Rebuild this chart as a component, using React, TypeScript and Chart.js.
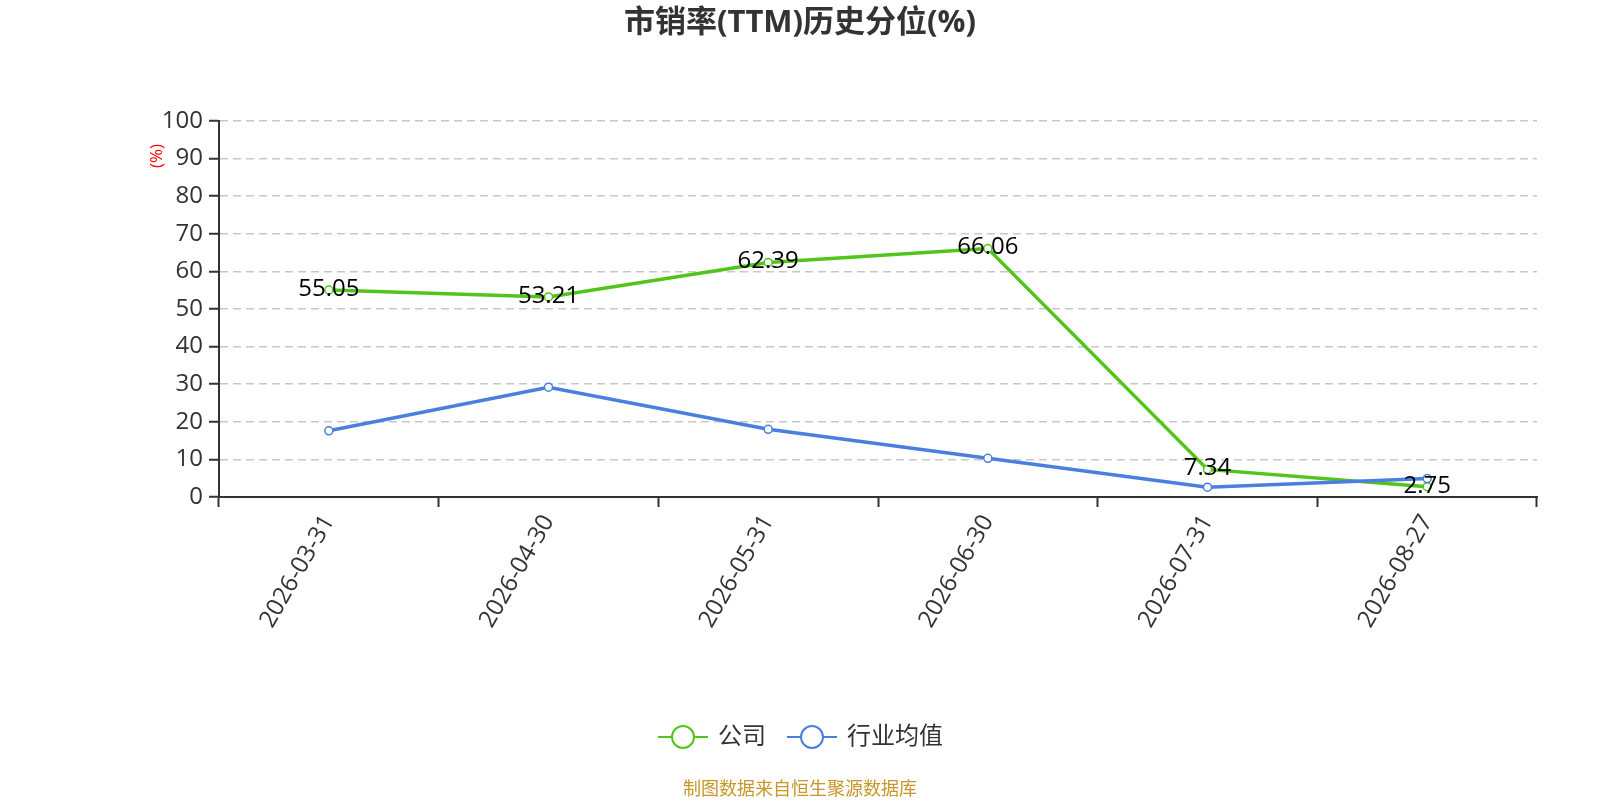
import React, { useEffect, useRef } from 'react';
import { Chart, registerables, Plugin } from 'chart.js';

Chart.register(...registerables);

const dates = ['2026-03-31', '2026-04-30', '2026-05-31', '2026-06-30', '2026-07-31', '2026-08-27'];
const companyValues = [55.05, 53.21, 62.39, 66.06, 7.34, 2.75];
const industryValues = [17.6, 29.2, 18.0, 10.3, 2.6, 4.9];
const yTicks = [0, 10, 20, 30, 40, 50, 60, 70, 80, 90, 100];

const titleText = '市销率(TTM)历史分位(%)';
const sourceText = '制图数据来自恒生聚源数据库';
const legendNames = ['公司', '行业均值'];

const GREEN = '#52c41a';
const BLUE = '#4a7fe0';
const FONT = '"Open Sans", "Noto Sans CJK SC", sans-serif';

// title, y unit, data labels, legend and source line
const decorPlugin: Plugin<'line'> = {
  id: 'decor',
  afterDatasetsDraw(chart) {
    const ctx = chart.ctx;
    ctx.save();

    // labels on the company series
    const meta = chart.getDatasetMeta(1);
    ctx.font = `24px ${FONT}`;
    ctx.fillStyle = '#000';
    ctx.textAlign = 'center';
    ctx.textBaseline = 'middle';
    meta.data.forEach((pt, i) => {
      ctx.fillText(companyValues[i].toFixed(2), pt.x, pt.y - 1);
    });
    ctx.restore();
  },
  afterDraw(chart) {
    const ctx = chart.ctx;
    const w = chart.width;
    ctx.save();

    // title
    ctx.font = `bold 31px ${FONT}`;
    ctx.fillStyle = '#333';
    ctx.textAlign = 'center';
    ctx.textBaseline = 'middle';
    ctx.fillText(titleText, w / 2, 23);

    // y unit
    ctx.save();
    ctx.translate(157, 156);
    ctx.rotate(-Math.PI / 2);
    ctx.font = `17px ${FONT}`;
    ctx.fillStyle = '#ff0000';
    ctx.fillText('(%)', 0, 0);
    ctx.restore();

    // legend
    const items = [
      { name: legendNames[0], color: GREEN, x: 658 },
      { name: legendNames[1], color: BLUE, x: 787 },
    ];
    const ly = 737;
    items.forEach((it) => {
      ctx.strokeStyle = it.color;
      ctx.lineWidth = 2;
      ctx.beginPath();
      ctx.moveTo(it.x, ly);
      ctx.lineTo(it.x + 50, ly);
      ctx.stroke();
      ctx.beginPath();
      ctx.arc(it.x + 25, ly, 11, 0, Math.PI * 2);
      ctx.fillStyle = '#fff';
      ctx.fill();
      ctx.lineWidth = 2;
      ctx.stroke();
      ctx.font = `24px ${FONT}`;
      ctx.fillStyle = '#333';
      ctx.textAlign = 'left';
      ctx.fillText(it.name, it.x + 60, ly);
    });

    // source
    ctx.font = `18px ${FONT}`;
    ctx.fillStyle = '#c8962a';
    ctx.textAlign = 'center';
    ctx.fillText(sourceText, w / 2, 790);

    ctx.restore();
  },
};

const App: React.FC = () => {
  const canvasRef = useRef<HTMLCanvasElement>(null);

  useEffect(() => {
    document.body.style.margin = '0';
    if (!canvasRef.current) return;
    const chart = new Chart(canvasRef.current, {
      type: 'line',
      data: {
        labels: dates,
        datasets: [
          {
            label: legendNames[1],
            data: industryValues,
            borderColor: BLUE,
            backgroundColor: '#fff',
            borderWidth: 3.5,
            pointRadius: 4,
            pointBorderWidth: 1.5,
            pointBackgroundColor: '#fff',
            pointBorderColor: BLUE,
            tension: 0,
            order: 0,
          },
          {
            label: legendNames[0],
            data: companyValues,
            borderColor: GREEN,
            backgroundColor: '#fff',
            borderWidth: 3.5,
            pointRadius: 4,
            pointBorderWidth: 1.5,
            pointBackgroundColor: '#fff',
            pointBorderColor: GREEN,
            tension: 0,
            order: 1,
          },
        ],
      },
      options: {
        responsive: false,
        animation: false,
        layout: { padding: { top: 121, left: 0, right: 63, bottom: 0 } },
        plugins: {
          legend: { display: false },
          title: { display: false },
          tooltip: { enabled: false },
        },
        scales: {
          x: {
            offset: true,
            afterFit: (scale) => {
              scale.height = 303;
            },
            grid: {
              offset: true,
              drawOnChartArea: false,
              drawTicks: true,
              tickLength: 10,
              tickColor: '#333',
              tickWidth: 2,
            },
            border: { color: '#333', width: 2 },
            ticks: {
              autoSkip: false,
              minRotation: 60,
              maxRotation: 60,
              padding: 3,
              color: '#333',
              font: { family: FONT, size: 24 },
            },
          },
          y: {
            min: 0,
            max: 100,
            afterFit: (scale) => {
              scale.width = 219;
            },
            afterBuildTicks: (scale) => {
              scale.ticks = yTicks.map((v) => ({ value: v }));
            },
            grid: {
              color: '#c8c8c8',
              lineWidth: 1.5,
              tickColor: '#333',
              tickWidth: 2,
              tickLength: 10,
              tickBorderDash: [],
            },
            border: { color: '#333', width: 2, dash: [8, 5] },
            ticks: {
              padding: 6,
              color: '#333',
              font: { family: FONT, size: 24 },
            },
          },
        },
      },
      plugins: [decorPlugin],
    });
    return () => chart.destroy();
  }, []);

  return (
    <div style={{ width: 1600, height: 800 }}>
      <canvas ref={canvasRef} width={1600} height={800} />
    </div>
  );
};

export default App;
